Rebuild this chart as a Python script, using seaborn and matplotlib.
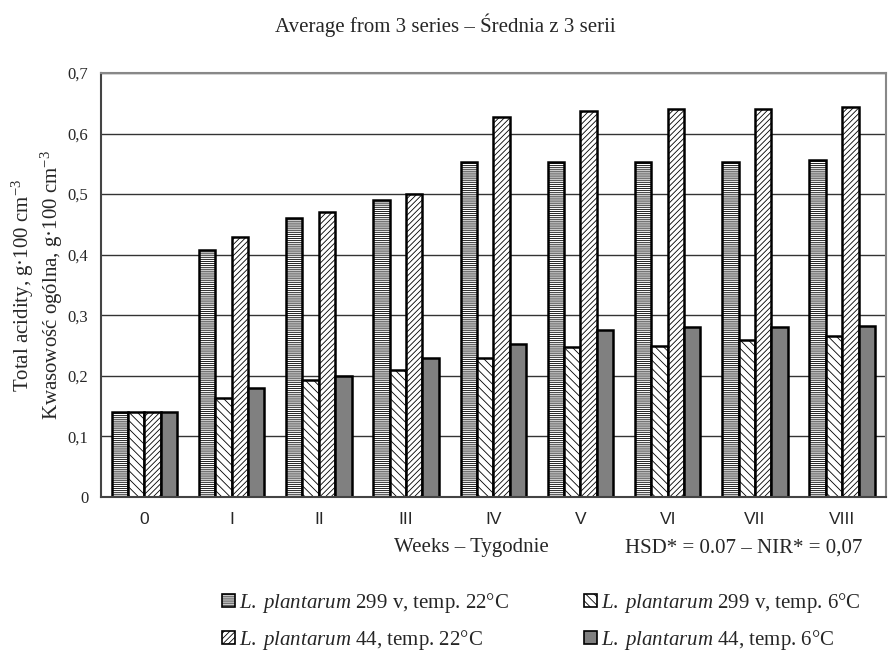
import pandas as pd
import numpy as np
import matplotlib
matplotlib.use("Agg")
import matplotlib.pyplot as plt
from matplotlib.patches import Patch
import seaborn as sb

# dane
weeks = ['0', 'I', 'II', 'III', 'IV', 'V', 'VI', 'VII', 'VIII']
s299_22 = [0.14, 0.407, 0.46, 0.49, 0.553, 0.553, 0.553, 0.553, 0.557]
s299_6 = [0.14, 0.163, 0.193, 0.21, 0.23, 0.247, 0.25, 0.26, 0.265]
s44_22 = [0.14, 0.43, 0.47, 0.50, 0.627, 0.637, 0.64, 0.64, 0.643]
s44_6 = [0.14, 0.18, 0.20, 0.23, 0.253, 0.276, 0.28, 0.28, 0.283]
series_names = ['299 v, temp. 22°C', '299 v, temp. 6°C', '44, temp. 22°C', '44, temp. 6°C']
y_ticks = [0, 0.1, 0.2, 0.3, 0.4, 0.5, 0.6, 0.7]
y_tick_labels = ['0', '0,1', '0,2', '0,3', '0,4', '0,5', '0,6', '0,7']

rows = []
for name, vals in zip(series_names, [s299_22, s299_6, s44_22, s44_6]):
    for w, v in zip(weeks, vals):
        rows.append({'week': w, 'series': name, 'value': v})
df = pd.DataFrame(rows)

sb.set_style('white')
plt.rcParams['font.family'] = ['Liberation Serif', 'DejaVu Serif']
plt.rcParams['mathtext.fontset'] = 'custom'
plt.rcParams['mathtext.rm'] = 'Liberation Serif'
plt.rcParams['mathtext.it'] = 'Liberation Serif:italic'
plt.rcParams['hatch.linewidth'] = 0.6

fills = ['white', 'white', 'white', '#808080']
hatches = ['--------', '\\\\\\\\', '//////', '']

fig = plt.figure(figsize=(8.92, 6.57), dpi=100)
ax = fig.add_axes([0.113, 0.2435, 0.88, 0.6455])

sb.barplot(data=df, x='week', y='value', hue='series', order=weeks,
           hue_order=series_names, palette=fills, width=0.75,
           edgecolor='black', linewidth=1.8, legend=False, ax=ax)
for cont, h in zip(ax.containers, hatches):
    for bar in cont:
        bar.set_hatch(h)

ax.set_ylim(0, 0.7)
ax.set_xlim(-0.5, 8.5)
ax.set_yticks(y_ticks)
ax.set_yticklabels(y_tick_labels, fontsize=12)
ax.set_xticks(range(len(weeks)))
ax.set_xticklabels(weeks, fontsize=12.5, family='Liberation Sans')
ax.set_xticks(np.arange(-0.5, 9, 1), minor=True)
ax.tick_params(axis='x', which='major', length=0, pad=11)
ax.tick_params(axis='x', which='minor', length=6, width=1, color='#333333', direction='out')
ax.tick_params(axis='y', length=6, width=1, color='#333333', direction='out', pad=3)
ax.yaxis.grid(True, color='#333333', linewidth=1)
ax.set_axisbelow(True)
for s in ['top', 'right']:
    ax.spines[s].set_color('#888888')
    ax.spines[s].set_linewidth(1.5)
for s in ['left', 'bottom']:
    ax.spines[s].set_color('#444444')
    ax.spines[s].set_linewidth(1.5)
ax.set_xlabel('')
ax.set_ylabel('Total acidity, g·100 cm$^{-3}$\nKwasowość ogólna, g·100 cm$^{-3}$',
              fontsize=15, linespacing=1.15, labelpad=2)

fig.text(0.4995, 0.962, 'Average from 3 series – Średnia z 3 serii', ha='center', va='center', fontsize=15)
fig.text(0.528, 0.166, 'Weeks – Tygodnie', ha='center', va='center', fontsize=15)
fig.text(0.834, 0.166, 'HSD* = 0.07 – NIR* = 0,07', ha='center', va='center', fontsize=15)

handles = [Patch(facecolor=f, edgecolor='black', hatch=h, linewidth=1.2) for f, h in zip(fills, hatches)]
labels = [r'$\mathit{L.\;plantarum}$ ' + n for n in series_names]
order = [0, 2, 1, 3]
fig.legend([handles[i] for i in order], [labels[i] for i in order], ncol=2,
           loc='center', bbox_to_anchor=(0.607, 0.054), frameon=False, fontsize=15,
           handlelength=0.6, handleheight=0.6, handletextpad=0.2,
           columnspacing=3.6, labelspacing=0.63)

plt.savefig('out.png', dpi=100)
